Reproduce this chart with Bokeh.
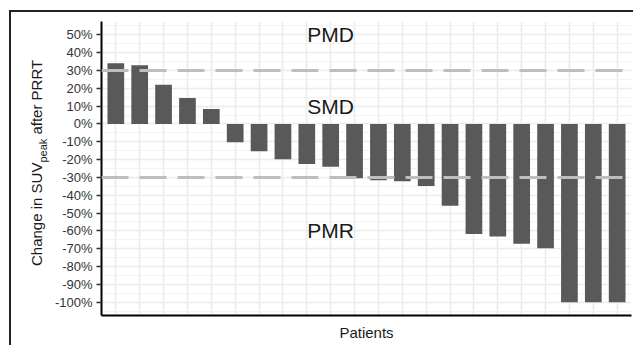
from bokeh.plotting import figure
from bokeh.models import FixedTicker, NumeralTickFormatter, Span, Range1d, Div
from bokeh.layouts import row
from bokeh.core.properties import value
from bokeh.embed import file_html
from bokeh.resources import INLINE

# ---- data ----
patients = list(range(1, 23))
change = [0.34, 0.33, 0.22, 0.146, 0.084, -0.103, -0.153, -0.198, -0.225, -0.24,
          -0.305, -0.316, -0.322, -0.348, -0.459, -0.618, -0.631, -0.672, -0.697,
          -1.0, -1.0, -1.0]
thresholds = [0.3, -0.3]
zone_names = ["PMD", "SMD", "PMR"]
zone_x = [10, 10, 10]
zone_y = [0.5, 0.1, -0.6]
y_ticks = [-1.0, -0.9, -0.8, -0.7, -0.6, -0.5, -0.4, -0.3, -0.2, -0.1, 0.0,
           0.1, 0.2, 0.3, 0.4, 0.5]
y_minor = [-1.05, -0.95, -0.85, -0.75, -0.65, -0.55, -0.45, -0.35, -0.25, -0.15,
           -0.05, 0.05, 0.15, 0.25, 0.35, 0.45, 0.55]
y_title_main = "Change in SUV"
y_title_sub = "peak"
y_title_tail = " after PRRT"
x_title = "Patients"

FONT = "Liberation Sans"

p = figure(width=582, height=333, x_range=Range1d(0.4, 22.6),
           y_range=Range1d(-1.075, 0.575), output_backend="svg",
           toolbar_location=None, min_border_left=49, min_border_top=9,
           min_border_right=2, min_border_bottom=30)
p.outline_line_color = None
p.background_fill_color = "white"
p.border_fill_color = "white"

p.vbar(x=patients, top=change, width=0.7, fill_color="#595959", line_color=None)

for t in thresholds:
    p.add_layout(Span(location=t, dimension="width", line_color="#BEBEBE",
                      line_width=3, line_dash="27 11"))

p.text(x=zone_x, y=zone_y, text=zone_names, text_font=value(FONT),
       text_font_size="21px", text_align="center", text_baseline="middle",
       text_color="#1A1A1A")

# grids
p.xgrid.grid_line_color = "#EBEBEB"
p.xgrid.grid_line_width = 1.6
p.ygrid.grid_line_color = "#EBEBEB"
p.ygrid.grid_line_width = 1.6
p.ygrid.minor_grid_line_color = "#F2F2F2"
p.ygrid.minor_grid_line_width = 0.9

# x axis
p.xaxis.ticker = FixedTicker(ticks=patients)
p.xaxis.major_label_overrides = {i: "" for i in patients}
p.xaxis.major_tick_line_color = None
p.xaxis.minor_tick_line_color = None
p.xaxis.axis_line_color = "black"
p.xaxis.axis_line_width = 2
p.xaxis.axis_label = x_title
p.xaxis.axis_label_text_font = FONT
p.xaxis.axis_label_text_font_size = "15px"
p.xaxis.axis_label_text_font_style = "normal"
p.xaxis.axis_label_text_color = "#1A1A1A"
p.xaxis.major_label_standoff = 0
p.xaxis.axis_label_standoff = 2

# y axis
p.yaxis.ticker = FixedTicker(ticks=y_ticks, minor_ticks=y_minor)
p.yaxis.formatter = NumeralTickFormatter(format="0%")
p.yaxis.major_label_text_font = FONT
p.yaxis.major_label_text_font_size = "13px"
p.yaxis.major_label_text_color = "#333333"
p.yaxis.major_tick_out = 5
p.yaxis.major_tick_in = 0
p.yaxis.major_tick_line_width = 1.5
p.yaxis.major_tick_line_color = "#333333"
p.yaxis.minor_tick_line_color = None
p.yaxis.axis_line_color = "black"
p.yaxis.axis_line_width = 2
p.yaxis.major_label_standoff = 4

# rotated y-axis title with subscript, as real HTML text
title_html = (
    '<div style="position:relative; width:max-content; white-space:nowrap; '
    "transform-origin:0 0; transform:translate(17px, 254px) rotate(-90deg); "
    "font-family:'Liberation Sans'; font-size:15px; line-height:17px; color:#1A1A1A;\">"
    f'{y_title_main}<sub style="font-size:11px; line-height:0; vertical-align:-5px;">'
    f"{y_title_sub}</sub>{y_title_tail}</div>"
)
ytitle = Div(text=title_html, width=40, height=333,
             styles={"margin": "0", "padding": "0", "overflow": "visible"})

layout = row(ytitle, p, spacing=0,
             styles={"margin-left": "9px", "margin-top": "10px",
                     "border-left": "2px solid #222222",
                     "border-top": "2px solid #222222",
                     "background-color": "white"})

open("out.html", "w").write(file_html(layout, INLINE))
